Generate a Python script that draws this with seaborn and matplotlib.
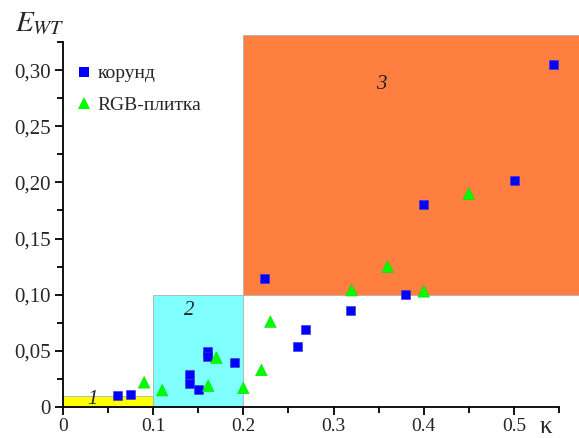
import numpy as np
import pandas as pd
import seaborn as sns
import matplotlib.pyplot as plt
from matplotlib.patches import Rectangle
from matplotlib.ticker import MultipleLocator, FuncFormatter

# корунд (blue squares)
korund_k = [0.06, 0.075, 0.14, 0.14, 0.15, 0.16, 0.16, 0.19, 0.224, 0.26, 0.269,
            0.319, 0.38, 0.40, 0.501, 0.544]
korund_e = [0.010, 0.011, 0.029, 0.021, 0.016, 0.049, 0.045, 0.040, 0.114, 0.054, 0.069,
            0.086, 0.100, 0.180, 0.202, 0.305]

# RGB-плитка (green triangles)
rgb_k = [0.09, 0.11, 0.161, 0.17, 0.20, 0.22, 0.23, 0.32, 0.36, 0.40, 0.45]
rgb_e = [0.022, 0.015, 0.019, 0.044, 0.017, 0.033, 0.076, 0.104, 0.125, 0.103, 0.190]

# zones: (x0, x1, y0, y1)
zones = [(0.0, 0.1, 0.0, 0.0098), (0.1, 0.2, 0.0, 0.1), (0.2, 0.574, 0.1, 0.331)]
zone_colors = ['#ffff00', '#80ffff', '#ff7f40']
zone_labels = ['1', '2', '3']
zone_label_pos = [(0.027, 0.003), (0.134, 0.082), (0.347, 0.283)]

sns.set_style('ticks')
plt.rcParams['font.family'] = ['Liberation Serif', 'DejaVu Serif']
plt.rcParams['mathtext.fontset'] = 'stix'

df = pd.DataFrame({
    'k': korund_k + rgb_k,
    'e': korund_e + rgb_e,
    'mat': ['корунд'] * len(korund_k) + ['RGB-плитка'] * len(rgb_k),
})

fig = plt.figure(figsize=(5.79, 4.38), dpi=100)
ax = fig.add_axes([0.1088, 0.0708, 0.8566, 0.8333])

for (x0, x1, y0, y1), c in zip(zones, zone_colors):
    ax.add_patch(Rectangle((x0, y0), x1 - x0, y1 - y0, facecolor=c,
                           edgecolor='#b0b0b0', linewidth=0.6, clip_on=False, zorder=1))
for lab, (tx, ty) in zip(zone_labels, zone_label_pos):
    ax.text(tx, ty, lab, fontsize=15, style='italic', color='#222222', zorder=2)

sns.scatterplot(data=df, x='k', y='e', hue='mat', style='mat', ax=ax,
                palette={'корунд': '#0000ff', 'RGB-плитка': '#00ff00'},
                markers={'корунд': 's', 'RGB-плитка': '^'},
                size='mat', sizes={'корунд': 42, 'RGB-плитка': 70},
                linewidth=0.4, edgecolor='#3333cc', zorder=3, clip_on=False)
for coll in ax.collections:
    coll.set_zorder(3)
ax.collections[-1].set_edgecolor(['#3333cc'] * len(korund_k) + ['#00dd00'] * len(rgb_k))

ax.set_xlim(0, 0.55)
ax.set_ylim(0, 0.325)
ax.xaxis.set_major_locator(MultipleLocator(0.1))
ax.xaxis.set_minor_locator(MultipleLocator(0.05))
ax.yaxis.set_major_locator(MultipleLocator(0.05))
ax.yaxis.set_minor_locator(MultipleLocator(0.025))
ax.xaxis.set_major_formatter(FuncFormatter(lambda v, p: '0' if abs(v) < 1e-9 else f'{v:.1f}'))
ax.yaxis.set_major_formatter(FuncFormatter(lambda v, p: '0' if abs(v) < 1e-9 else f'{v:.2f}'.replace('.', ',')))
ax.tick_params(which='major', length=6, width=1.3, labelsize=15, direction='out', color='black')
ax.tick_params(which='minor', length=4, width=1.3, direction='out', color='black')
ax.tick_params(axis='x', pad=2, labelsize=14)
ax.tick_params(axis='y', pad=3)
sns.despine(ax=ax)
for s in ['left', 'bottom']:
    ax.spines[s].set_linewidth(1.3)
    ax.spines[s].set_color('black')
ax.set_xlabel('')
ax.set_ylabel('')

leg = ax.legend(loc='upper left', bbox_to_anchor=(-0.005, 0.975), frameon=False, fontsize=14,
                handlelength=1.0, handletextpad=0.2, labelspacing=0.7,
                borderaxespad=0.3, title=None)
for h in leg.legend_handles:
    h.set_markeredgewidth(0)

fig.text(0.068, 0.948, '$E_{WT}$', fontsize=21, ha='center', va='center')
fig.text(0.942, 0.026, 'κ', fontsize=18, ha='center', va='center')

fig.savefig('out.png', dpi=100)
